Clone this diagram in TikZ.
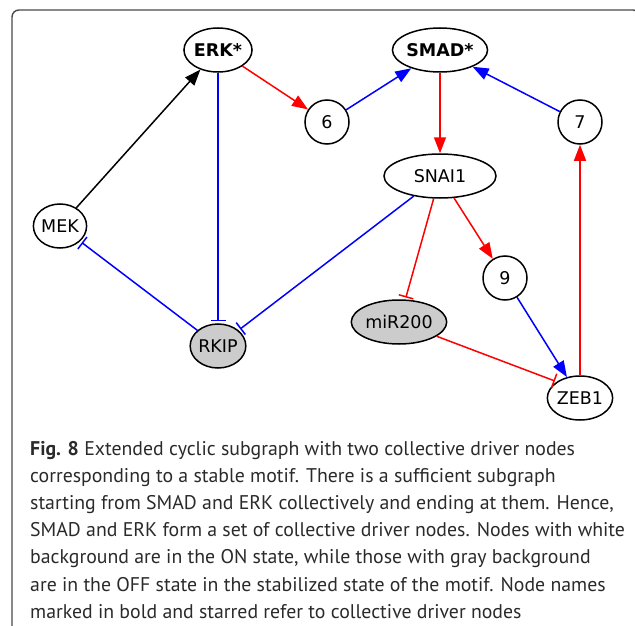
\documentclass[tikz,border=0pt]{standalone}
\usepackage{fontspec}
\setmainfont{DejaVu Sans}
\newfontfamily\capfont{PT Sans}
\usetikzlibrary{arrows.meta,shapes.geometric}
\definecolor{capgray}{HTML}{2A2A2A}
\definecolor{offgray}{HTML}{CCCCCC}
\definecolor{framegray}{HTML}{4A4A4A}
\definecolor{actred}{HTML}{FF0000}
\definecolor{actblue}{HTML}{0000FF}

\begin{document}
\begin{tikzpicture}[x=1pt,y=-1pt,
  gnode/.style={ellipse, draw=black, line width=1.5pt, inner sep=0pt,
    fill=white, font=\fontsize{17.5}{20}\selectfont,
    minimum width=#1, minimum height=44pt},
  gnode/.default=44pt,
  offnode/.style={fill=offgray},
  driver/.style={font=\fontsize{17.5}{20}\selectfont\bfseries},
  act/.style={-{Triangle[length=16pt,width=12pt]}, line width=1.5pt},
  inh/.style={-{Bar[width=15pt,line width=1.5pt]}, line width=1.5pt, shorten >=2pt},
  capline/.style={anchor=base west, inner sep=0pt, text=capgray,
    font=\capfont\fontsize{19.8}{23}\selectfont}
]
\useasboundingbox (0,0) rectangle (635,626);

% outer frame (runs off the right and bottom)
\draw[framegray, line width=1.4pt, rounded corners=7pt] (12,10) rectangle (640,660);

% nodes
\node[gnode=58pt, driver] (erk)  at (218,50)  {ERK*};
\node[gnode=94pt, driver] (smad) at (440,50)  {SMAD*};
\node[gnode]              (n6)   at (327,122) {6};
\node[gnode]              (n7)   at (580,122) {7};
\node[gnode=112pt]        (snai) at (440,176) {SNAI1};
\node[gnode]              (mek)  at (60,226)  {MEK};
\node[gnode]              (n9)   at (505,278) {9};
\node[gnode=80pt, offnode](mir)  at (399,322) {miR200};
\node[gnode, offnode]     (rkip) at (218,346) {RKIP};
\node[gnode=58pt]         (zeb)  at (580,398) {ZEB1};

% connectors
\draw[act]       (mek)  -- (erk);
\draw[act, actred]  (erk)  -- (n6);
\draw[act, actblue] (n6)   -- (smad);
\draw[act, actblue] (n7)   -- (smad);
\draw[act, actred]  (smad) -- (snai);
\draw[inh, actblue] (erk)  -- (rkip);
\draw[inh, actblue] (rkip) -- (mek);
\draw[inh, actblue] (snai) -- (rkip);
\draw[inh, actred]  (snai) -- (mir);
\draw[act, actred]  (snai) -- (n9);
\draw[act, actblue] (n9)   -- (zeb);
\draw[inh, actred]  (mir)  -- (zeb.145);
\draw[act, actred]  (zeb)  -- (n7);

% caption
\node[capline] (cap1) at (30,455) {\textbf{Fig. 8} Extended cyclic subgraph with two collective driver nodes};
\node[capline] (cap2) at (30,482.2) {corresponding to a stable motif. There is a sufficient subgraph};
\node[capline] (cap3) at (30,509.4) {starting from SMAD and ERK collectively and ending at them. Hence,};
\node[capline] (cap4) at (30,536.6) {SMAD and ERK form a set of collective driver nodes. Nodes with white};
\node[capline] (cap5) at (30,563.8) {background are in the ON state, while those with gray background};
\node[capline] (cap6) at (30,591) {are in the OFF state in the stabilized state of the motif. Node names};
\node[capline] (cap7) at (30,618.2) {marked in bold and starred refer to collective driver nodes};
\end{tikzpicture}
\end{document}
